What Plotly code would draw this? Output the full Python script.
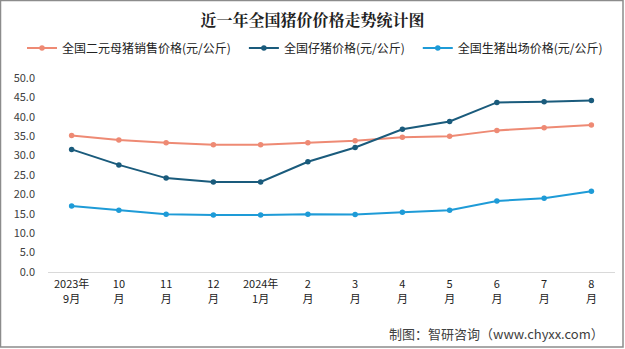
import plotly.graph_objects as go

categories = ["2023-09", "2023-10", "2023-11", "2023-12", "2024-01", "2024-02",
              "2024-03", "2024-04", "2024-05", "2024-06", "2024-07", "2024-08"]
label_top = ["2023年", "10", "11", "12", "2024年", "2", "3", "4", "5", "6", "7", "8"]
label_bottom = ["9月", "月", "月", "月", "1月", "月", "月", "月", "月", "月", "月", "月"]
sow_price = [35.2, 34.0, 33.3, 32.8, 32.8, 33.3, 33.8, 34.7, 35.0, 36.5, 37.2, 37.9]
piglet_price = [31.6, 27.6, 24.2, 23.2, 23.2, 28.4, 32.1, 36.8, 38.8, 43.7, 43.9, 44.2]
hog_price = [17.0, 15.9, 14.9, 14.7, 14.7, 14.9, 14.8, 15.4, 15.9, 18.3, 19.0, 20.8]
series_names = ["全国二元母猪销售价格(元/公斤)", "全国仔猪价格(元/公斤)", "全国生猪出场价格(元/公斤)"]
y_ticks = [0, 5, 10, 15, 20, 25, 30, 35, 40, 45, 50]

colors = ["#EE8A74", "#1A5B7C", "#1E9BD7"]
font = "Noto Sans CJK SC"

fig = go.Figure()
for name, vals, c in zip(series_names, [sow_price, piglet_price, hog_price], colors):
    fig.add_trace(go.Scatter(
        x=categories, y=vals, name=name + "&nbsp;&nbsp;&nbsp;", mode="lines+markers",
        line=dict(color=c, width=2), marker=dict(color=c, size=5.5),
    ))
# invisible trace carrying the second line of the month labels
fig.add_trace(go.Scatter(x=categories, y=[None] * len(categories), xaxis="x2",
                         showlegend=False, hoverinfo="skip"))

W, H = 625, 349
ml, mr, mt, mb = 48, 10, 78, 77
pw, ph = W - ml - mr, H - mt - mb

fig.update_layout(
    width=W, height=H,
    margin=dict(l=ml, r=mr, t=mt, b=mb),
    paper_bgcolor="white", plot_bgcolor="white",
    font=dict(family=font, color="#404040", size=11),
    title=dict(text="<b>近一年全国猪价价格走势统计图</b>", x=0.5, xanchor="center",
               y=1 - 20 / H, yanchor="middle",
               font=dict(family="Noto Serif CJK SC, " + font, size=16, color="#222222")),
    legend=dict(orientation="h", x=(22 - ml) / pw, xanchor="left", y=1 + 30 / ph, yanchor="middle",
                font=dict(size=12, color="#222222"), itemwidth=30, tracegroupgap=0,
                bgcolor="rgba(0,0,0,0)"),
    showlegend=True,
    xaxis=dict(type="category", range=[-0.5, 11.5], showgrid=False, showline=True,
               linecolor="#D9D9D9", linewidth=1, ticks="",
               tickvals=categories, ticktext=label_top, ticklabelstandoff=2,
               tickfont=dict(size=11, color="#222222"), fixedrange=True),
    xaxis2=dict(type="category", range=[-0.5, 11.5], overlaying="x", side="bottom", anchor="y",
                showgrid=False, showline=False, ticks="",
                tickvals=categories, ticktext=label_bottom, ticklabelstandoff=19,
                tickfont=dict(size=11, color="#222222"), fixedrange=True),
    yaxis=dict(range=[0, 50], tickvals=y_ticks, ticktext=[f"{v:.1f}" for v in y_ticks],
               showgrid=False, zeroline=False, showline=False, ticks="",
               ticklabelstandoff=12,
               tickfont=dict(size=11, color="#404040"), fixedrange=True),
    annotations=[dict(text="制图：智研咨询（www.chyxx.com）", xref="paper", yref="paper",
                      x=(606 - ml) / pw, xanchor="right", y=-(333 - (mt + ph)) / ph, yanchor="middle",
                      showarrow=False, font=dict(size=13, color="#404040"))],
    shapes=[dict(type="rect", xref="paper", yref="paper",
                 x0=(0.5 - ml) / pw, x1=(W - 2 - ml) / pw,
                 y0=-(H - 2 - mt - ph) / ph, y1=1 + (mt - 0.5) / ph,
                 line=dict(color="#8C8C8C", width=1.5), layer="above")],
)

fig.write_html("out.html")
